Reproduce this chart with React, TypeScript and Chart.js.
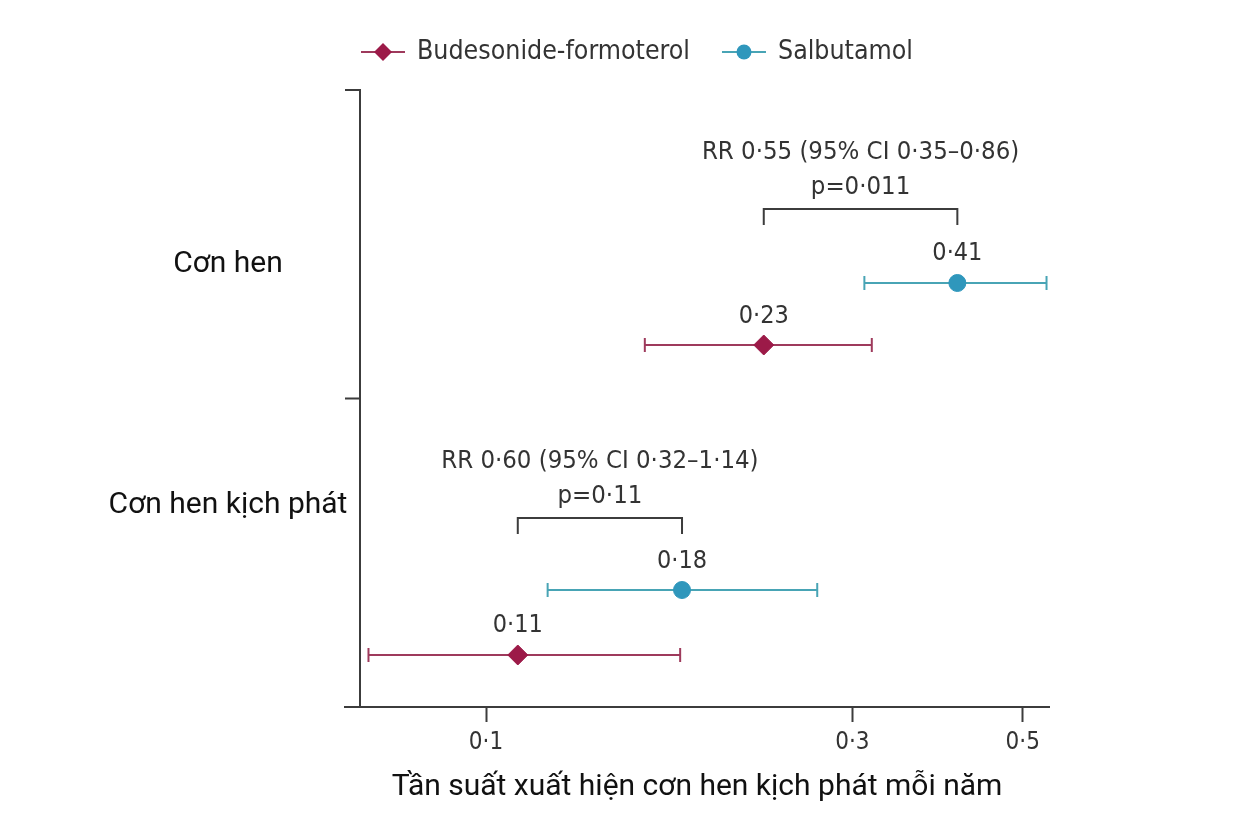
import { useEffect, useRef } from "react";
import { Chart, registerables } from "chart.js";

Chart.register(...registerables);

// ---------------- DATA ----------------
const categories = ["Cơn hen", "Cơn hen kịch phát"];
const seriesNames = ["Budesonide-formoterol", "Salbutamol"];

const budesonideRate = [0.23, 0.11];
const budesonideLow = [0.161, 0.0703];
const budesonideHigh = [0.318, 0.179];
const budesonideLabels = ["0·23", "0·11"];

const salbutamolRate = [0.411, 0.18];
const salbutamolLow = [0.311, 0.1203];
const salbutamolHigh = [0.537, 0.27];
const salbutamolLabels = ["0·41", "0·18"];

const rrLabels = ["RR 0·55 (95% CI 0·35–0·86)", "RR 0·60 (95% CI 0·32–1·14)"];
const pLabels = ["p=0·011", "p=0·11"];

const tickValues = [0.1, 0.3, 0.5];
const tickLabels = ["0·1", "0·3", "0·5"];
const xTitle = "Tần suất xuất hiện cơn hen kịch phát mỗi năm";

// ---------------- LAYOUT / STYLE ----------------
const X_MIN = 0.06552;
const X_MAX = 0.541;
const budRowY = [0.5867, 0.0843];
const salbRowY = [0.6872, 0.1896];
const bracketY = [0.8071, 0.3063];
const categoryLabelY = [0.717, 0.326];
const yAxisTicks = [1, 0.5];

const BUD_MARK = "#9c1a48";
const BUD_LINE = "#9e3a5c";
const SALB_MARK = "#2f97bc";
const SALB_LINE = "#48a4b5";
const AXIS_COLOR = "#3c3c3c";
const TEXT_COLOR = "#333333";
const LANCET_FONT = '"DejaVu Sans Condensed", "Liberation Sans Narrow", "Open Sans", sans-serif';
const LABEL_FONT = 'Roboto, "Noto Sans", sans-serif';

const overlayPlugin = {
  id: "overlay",
  afterDatasetsDraw(chart: any) {
    const { ctx, chartArea, scales } = chart;
    const x = scales.x;
    const y = scales.y;
    ctx.save();

    // Y axis (offset from chart left)
    const axX = chartArea.left + 15;
    ctx.strokeStyle = AXIS_COLOR;
    ctx.lineWidth = 2;
    ctx.beginPath();
    ctx.moveTo(axX, y.getPixelForValue(1));
    ctx.lineTo(axX, chartArea.bottom);
    yAxisTicks.forEach((v) => {
      const py = y.getPixelForValue(v);
      ctx.moveTo(axX + 1, py);
      ctx.lineTo(axX - 15, py);
    });
    ctx.stroke();

    // Category labels
    ctx.fillStyle = "#111";
    ctx.font = `30px ${LABEL_FONT}`;
    ctx.textAlign = "center";
    ctx.textBaseline = "middle";
    categories.forEach((c, i) => {
      ctx.fillText(c, 228, y.getPixelForValue(categoryLabelY[i]));
    });

    // Value labels
    ctx.fillStyle = TEXT_COLOR;
    ctx.font = `25px ${LANCET_FONT}`;
    budesonideRate.forEach((v, i) => {
      ctx.fillText(budesonideLabels[i], x.getPixelForValue(v), y.getPixelForValue(budRowY[i]) - 29);
    });
    salbutamolRate.forEach((v, i) => {
      ctx.fillText(salbutamolLabels[i], x.getPixelForValue(v), y.getPixelForValue(salbRowY[i]) - 29);
    });

    // Brackets + RR / p text
    categories.forEach((_, i) => {
      const x1 = x.getPixelForValue(budesonideRate[i]);
      const x2 = x.getPixelForValue(salbutamolRate[i]);
      const by = y.getPixelForValue(bracketY[i]);
      ctx.strokeStyle = AXIS_COLOR;
      ctx.lineWidth = 2;
      ctx.beginPath();
      ctx.moveTo(x1, by + 16);
      ctx.lineTo(x1, by);
      ctx.lineTo(x2, by);
      ctx.lineTo(x2, by + 16);
      ctx.stroke();
      const cx = (x1 + x2) / 2;
      ctx.fillStyle = TEXT_COLOR;
      ctx.font = `25.5px ${LANCET_FONT}`;
      ctx.fillText(rrLabels[i], cx, by - 57);
      ctx.fillText(pLabels[i], cx, by - 22);
    });
    ctx.restore();
  },
  afterDraw(chart: any) {
    const { ctx } = chart;
    ctx.save();
    ctx.font = `26.5px ${LANCET_FONT}`;
    const lineLen = 44;
    const gapText = 12;
    const gapItem = 32;
    const w0 = ctx.measureText(seriesNames[0]).width;
    const w1 = ctx.measureText(seriesNames[1]).width;
    const total = lineLen + gapText + w0 + gapItem + lineLen + gapText + w1;
    let sx = 637 - total / 2;
    const ly = 52;
    const items = [
      { name: seriesNames[0], w: w0, line: BUD_LINE, mark: BUD_MARK, style: "diamond" },
      { name: seriesNames[1], w: w1, line: SALB_LINE, mark: SALB_MARK, style: "circle" },
    ];
    items.forEach((it) => {
      ctx.strokeStyle = it.line;
      ctx.lineWidth = 2;
      ctx.beginPath();
      ctx.moveTo(sx, ly);
      ctx.lineTo(sx + lineLen, ly);
      ctx.stroke();
      const mx = sx + lineLen / 2;
      ctx.fillStyle = it.mark;
      ctx.beginPath();
      if (it.style === "diamond") {
        ctx.moveTo(mx, ly - 9);
        ctx.lineTo(mx + 9, ly);
        ctx.lineTo(mx, ly + 9);
        ctx.lineTo(mx - 9, ly);
        ctx.closePath();
      } else {
        ctx.arc(mx, ly, 7.5, 0, Math.PI * 2);
      }
      ctx.fill();
      ctx.fillStyle = TEXT_COLOR;
      ctx.textAlign = "left";
      ctx.textBaseline = "middle";
      ctx.fillText(it.name, sx + lineLen + gapText, ly);
      sx += lineLen + gapText + it.w + gapItem;
    });
    ctx.restore();
  },
};

export default function App() {
  const canvasRef = useRef<HTMLCanvasElement | null>(null);

  useEffect(() => {
    document.body.style.margin = "0";
    document.body.style.background = "#ffffff";
    const canvas = canvasRef.current;
    if (!canvas) return;

    const ciDataset = (lo: number, hi: number, yy: number, color: string) => ({
      type: "line" as const,
      data: [
        { x: lo, y: yy },
        { x: hi, y: yy },
      ],
      borderColor: color,
      borderWidth: 2,
      pointStyle: "line" as const,
      pointRotation: 90,
      pointRadius: 7,
      pointBorderWidth: 2,
      pointBorderColor: color,
      pointBackgroundColor: color,
      order: 2,
    });

    const datasets: any[] = [
      {
        type: "line",
        label: seriesNames[0],
        data: budesonideRate.map((v, i) => ({ x: v, y: budRowY[i] })),
        showLine: false,
        pointStyle: "rectRot",
        pointRadius: 10,
        pointBackgroundColor: BUD_MARK,
        pointBorderColor: BUD_MARK,
        pointBorderWidth: 1,
        order: 0,
      },
      {
        type: "line",
        label: seriesNames[1],
        data: salbutamolRate.map((v, i) => ({ x: v, y: salbRowY[i] })),
        showLine: false,
        pointStyle: "circle",
        pointRadius: 8.5,
        pointBackgroundColor: SALB_MARK,
        pointBorderColor: SALB_MARK,
        pointBorderWidth: 1,
        order: 0,
      },
      ...budesonideRate.map((_, i) => ciDataset(budesonideLow[i], budesonideHigh[i], budRowY[i], BUD_LINE)),
      ...salbutamolRate.map((_, i) => ciDataset(salbutamolLow[i], salbutamolHigh[i], salbRowY[i], SALB_LINE)),
    ];

    const chart = new Chart(canvas, {
      type: "line",
      data: { datasets },
      options: {
        animation: false,
        responsive: false,
        maintainAspectRatio: false,
        layout: { padding: { left: 345, right: 205, top: 90, bottom: 0 } },
        plugins: {
          legend: { display: false },
          tooltip: { enabled: false },
          title: { display: false },
        },
        scales: {
          x: {
            type: "logarithmic",
            min: X_MIN,
            max: X_MAX,
            afterBuildTicks: (s: any) => {
              s.ticks = tickValues.map((v) => ({ value: v }));
            },
            afterFit: (s: any) => {
              s.height = 127;
            },
            ticks: {
              autoSkip: false,
              maxRotation: 0,
              padding: 6,
              color: TEXT_COLOR,
              font: { size: 24, family: LANCET_FONT },
              callback: (_v: any, idx: number) => tickLabels[idx],
            },
            grid: {
              display: true,
              drawOnChartArea: false,
              drawTicks: true,
              tickLength: 15,
              tickWidth: 2,
              tickColor: AXIS_COLOR,
            },
            border: { display: true, color: AXIS_COLOR, width: 2 },
            title: {
              display: true,
              text: xTitle,
              color: "#111",
              font: { size: 30, family: LABEL_FONT },
              padding: { top: 8, bottom: 29 },
            },
          },
          y: {
            type: "linear",
            min: 0,
            max: 1,
            display: false,
          },
        },
      },
      plugins: [overlayPlugin],
    } as any);

    return () => chart.destroy();
  }, []);

  return (
    <div style={{ width: 1254, height: 834, background: "#fff" }}>
      <canvas ref={canvasRef} width={1254} height={834} style={{ display: "block" }} />
    </div>
  );
}
